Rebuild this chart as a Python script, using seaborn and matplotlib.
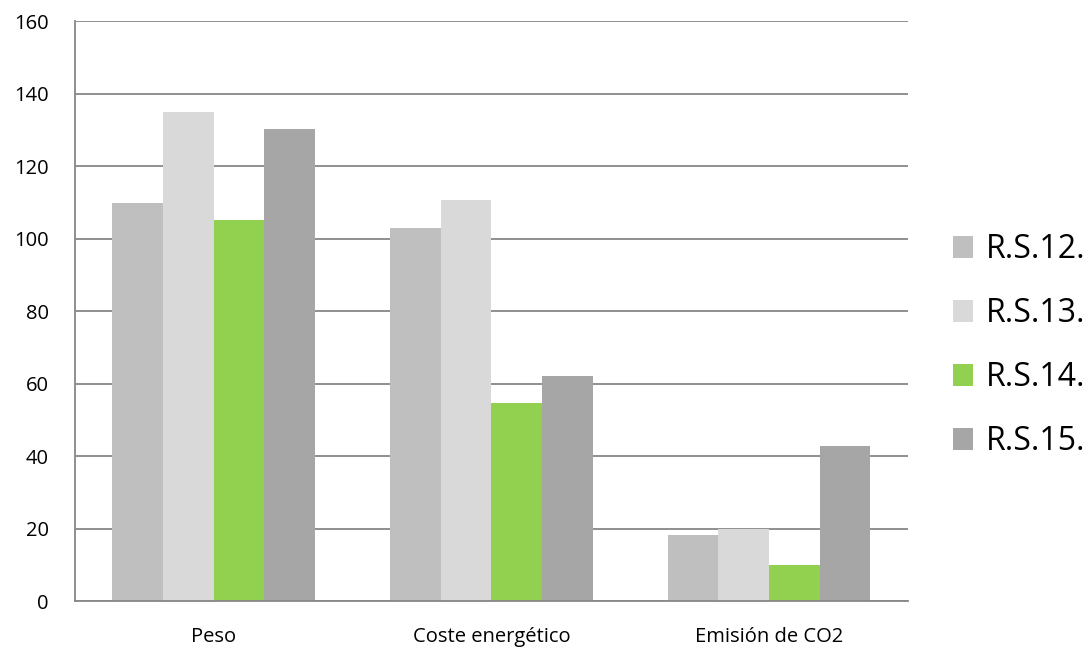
import matplotlib
matplotlib.use("Agg")
import matplotlib.pyplot as plt
import seaborn as sns
import pandas as pd

categories = ["Peso", "Coste energético", "Emisión de CO2"]
series_names = ["R.S.12.", "R.S.13.", "R.S.14.", "R.S.15."]
rs12 = [109.7, 102.9, 18.2]
rs13 = [135.0, 110.6, 19.8]
rs14 = [105.0, 54.6, 10.0]
rs15 = [130.2, 62.2, 42.7]
y_ticks = [0, 20, 40, 60, 80, 100, 120, 140, 160]

colors = ["#BFBFBF", "#D9D9D9", "#92D050", "#A6A6A6"]
axis_grey = "#878787"

rows = []
for name, vals in zip(series_names, [rs12, rs13, rs14, rs15]):
    for cat, v in zip(categories, vals):
        rows.append({"Categoría": cat, "Serie": name, "Valor": v})
df = pd.DataFrame(rows)

sns.set_theme(style="white")
plt.rcParams["font.family"] = ["Open Sans", "DejaVu Sans"]
plt.rcParams["text.color"] = "black"
plt.rcParams["xtick.color"] = "black"
plt.rcParams["ytick.color"] = "black"

fig = plt.figure(figsize=(10.9, 6.57), dpi=100)
ax = fig.add_axes([0.0688, 0.0852, 0.764, 0.8828])

sns.barplot(data=df, x="Categoría", y="Valor", hue="Serie", order=categories,
            hue_order=series_names, palette=colors, width=0.73, saturation=1,
            edgecolor="none", ax=ax, legend=False)

ax.set_xlim(-0.5, 2.5)
ax.set_ylim(0, 160)
ax.set_yticks(y_ticks)
ax.set_yticklabels([str(t) for t in y_ticks], fontsize=14.5)
ax.yaxis.grid(True, color=axis_grey, linewidth=1.3)
ax.set_axisbelow(True)

# category labels centred under each group, tick marks at group boundaries
ax.set_xticks([0, 1, 2])
ax.set_xticklabels(categories, fontsize=14.5)
ax.tick_params(axis="x", length=0, pad=19)
ax.set_xticks([-0.5, 0.5, 1.5, 2.5], minor=True)
ax.tick_params(axis="x", which="minor", length=6, width=1.3, color=axis_grey, direction="out")
ax.tick_params(axis="y", length=6, width=1.3, color=axis_grey, direction="out", pad=13,
               labelcolor="black")
ax.set_xlabel("")
ax.set_ylabel("")

for side in ["top", "right"]:
    ax.spines[side].set_visible(False)
for side in ["left", "bottom"]:
    ax.spines[side].set_color(axis_grey)
    ax.spines[side].set_linewidth(1.3)

handles = [plt.Rectangle((0, 0), 1, 1, facecolor=c, edgecolor="none") for c in colors]
leg = ax.legend(handles, series_names, loc="center left", bbox_to_anchor=(1.054, 0.440),
                frameon=False, fontsize=23, handlelength=0.65, handleheight=0.65,
                handletextpad=0.4, labelspacing=0.97, borderaxespad=0, borderpad=0)

fig.savefig("out.png", dpi=100)
